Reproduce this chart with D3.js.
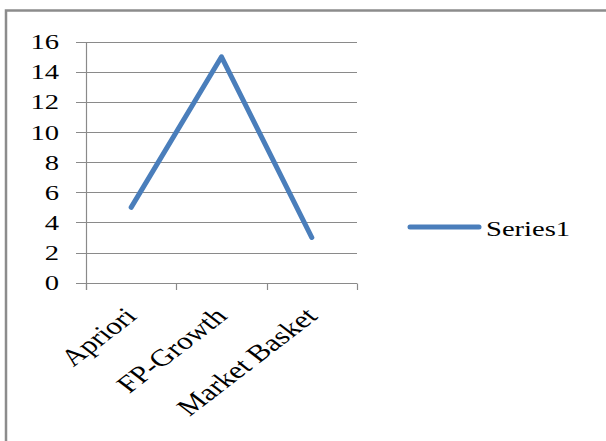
<!DOCTYPE html>
<html><head><meta charset="utf-8">
<script src="https://cdn.jsdelivr.net/npm/d3@7"></script>
<style>
html,body{margin:0;padding:0;background:#fff;}
svg{display:block;}
</style></head>
<body>
<script>
const categories = ["Apriori", "FP-Growth", "Market Basket"];
const series1 = [5, 15, 3];
const yTicks = [0, 2, 4, 6, 8, 10, 12, 14, 16];
const seriesName = "Series1";

const W = 606, H = 441;
const FONT = "'Liberation Serif', 'Times New Roman', Times, serif";
const svg = d3.select("body").append("svg").attr("width", W).attr("height", H);
const SX = 1.3; // horizontal stretch of the original

// outer frame (right & bottom edges off-canvas)
svg.append("rect").attr("x", 6).attr("y", 10.5).attr("width", 700).attr("height", 600)
  .attr("fill", "none").attr("stroke", "#8c8c8c").attr("stroke-width", 2.5);

const x = d3.scaleBand().domain(categories).range([86, 357]);
const y = d3.scaleLinear().domain([0, 16]).range([282.7, 41.7]);
const gridColor = "#8a8a8a";

// gridlines
svg.append("g").selectAll("line").data(yTicks).join("line")
  .attr("x1", 76).attr("x2", 357)
  .attr("y1", d => Math.round(y(d)) + 0.5).attr("y2", d => Math.round(y(d)) + 0.5)
  .attr("stroke", gridColor).attr("stroke-width", 1.2);

// y axis line
svg.append("line").attr("x1", 86.5).attr("x2", 86.5)
  .attr("y1", Math.round(y(16)) + 0.5).attr("y2", Math.round(y(0)) + 7)
  .attr("stroke", gridColor).attr("stroke-width", 1.2);

// x tick marks at band boundaries
const bounds = categories.map(c => x(c)).concat([x.range()[1]]);
svg.append("g").selectAll("line").data(bounds).join("line")
  .attr("x1", d => Math.round(d) + 0.5).attr("x2", d => Math.round(d) + 0.5)
  .attr("y1", Math.round(y(0)) + 0.5).attr("y2", Math.round(y(0)) + 7)
  .attr("stroke", gridColor).attr("stroke-width", 1.2);

// y labels
svg.append("g").selectAll("text").data(yTicks).join("text")
  .attr("transform", d => `translate(59,${y(d)}) scale(${SX},1)`)
  .attr("text-anchor", "end").attr("dy", "0.34em")
  .attr("font-family", FONT).attr("font-size", 22).attr("fill", "#000")
  .text(d => d);

// x labels
svg.append("g").selectAll("text").data(categories).join("text")
  .attr("transform", d => `translate(${x(d) + x.bandwidth() / 2 - 8},306) scale(${SX},1) rotate(-45)`)
  .attr("text-anchor", "end").attr("dy", "0.68em")
  .attr("font-family", FONT).attr("font-size", 24).attr("fill", "#000")
  .text(d => d);

// series line
const line = d3.line().x((d, i) => x(categories[i]) + x.bandwidth() / 2).y(d => y(d));
svg.append("path").datum(series1).attr("d", line)
  .attr("fill", "none").attr("stroke", "#4a7ebb").attr("stroke-width", 5)
  .attr("stroke-linejoin", "round").attr("stroke-linecap", "round");

// legend
svg.append("line").attr("x1", 410).attr("x2", 479).attr("y1", 227).attr("y2", 227)
  .attr("stroke", "#4a7ebb").attr("stroke-width", 5).attr("stroke-linecap", "round");
svg.append("text").attr("transform", `translate(486,236) scale(${SX},1)`)
  .attr("font-family", FONT).attr("font-size", 22).attr("fill", "#000")
  .text(seriesName);
</script>
</body></html>
